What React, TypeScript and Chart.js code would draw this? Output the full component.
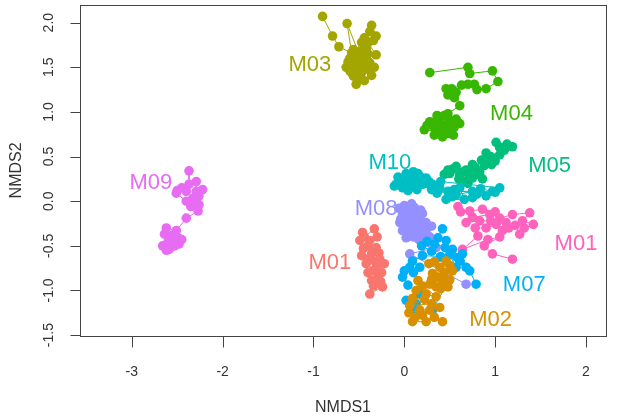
import React, { useEffect, useRef } from "react";
import { Chart, registerables } from "chart.js";

Chart.register(...registerables);

type P = [number, number];

const xTicks = [-3, -2, -1, 0, 1, 2];
const yTicks = [-1.5, -1.0, -0.5, 0.0, 0.5, 1.0, 1.5, 2.0];
const yTickLabels = ["-1.5", "-1.0", "-0.5", "0.0", "0.5", "1.0", "1.5", "2.0"];

const M03: P[] = [[-0.90,2.07],[-0.79,1.85],[-0.72,1.73],[-0.58,1.66],[-0.63,1.99],[-0.49,1.63],[-0.47,1.78],[-0.36,1.97],[-0.31,1.85],[-0.40,1.78],[-0.44,1.83],[-0.31,1.64],[-0.44,1.54],[-0.55,1.52],[-0.62,1.56],[-0.64,1.50],[-0.58,1.44],[-0.53,1.31],[-0.47,1.44],[-0.40,1.48],[-0.36,1.41],[-0.50,1.48],[-0.45,1.58],[-0.52,1.60],[-0.42,1.62],[-0.34,1.80],[-0.38,1.90],[-0.60,1.60],[-0.56,1.70],[-0.48,1.68],[-0.42,1.70],[-0.38,1.55],[-0.33,1.50],[-0.56,1.40],[-0.48,1.38],[-0.44,1.35],[-0.60,1.46],[-0.50,1.56],[-0.40,1.65]];
const M04: P[] = [[0.28,1.44],[0.70,1.50],[0.72,1.43],[0.97,1.46],[1.03,1.34],[0.90,1.26],[0.80,1.25],[0.77,1.31],[0.70,1.31],[0.63,1.30],[0.52,1.26],[0.46,1.26],[0.48,1.19],[0.55,1.16],[0.57,1.22],[0.61,1.07],[0.48,0.98],[0.39,0.94],[0.50,0.91],[0.33,0.83],[0.44,0.80],[0.28,0.89],[0.55,0.83],[0.37,0.78],[0.22,0.80],[0.48,0.76],[0.61,0.87],[0.41,0.85],[0.35,0.90],[0.30,0.86],[0.36,0.96],[0.44,0.96],[0.52,0.79],[0.57,0.92],[0.25,0.85],[0.33,0.74],[0.42,0.72],[0.46,0.86],[0.40,0.79],[0.54,0.74]];
const M05: P[] = [[0.44,0.30],[0.48,0.35],[0.50,0.31],[0.53,0.36],[0.57,0.39],[0.60,0.25],[0.61,0.30],[0.66,0.22],[0.68,0.35],[0.72,0.28],[0.70,0.20],[0.75,0.26],[0.75,0.41],[0.73,0.34],[0.80,0.30],[0.83,0.33],[0.86,0.25],[0.78,0.38],[0.85,0.46],[0.88,0.40],[0.92,0.47],[0.96,0.41],[0.95,0.50],[1.00,0.45],[0.90,0.54],[1.05,0.52],[1.10,0.57],[1.05,0.60],[1.01,0.66],[1.13,0.64],[1.19,0.61],[0.65,0.33]];
const M10: P[] = [[-0.09,0.19],[-0.11,0.17],[-0.05,0.22],[-0.07,0.27],[-0.02,0.15],[0.02,0.31],[0.06,0.28],[0.10,0.33],[0.11,0.20],[0.15,0.31],[0.18,0.27],[0.24,0.26],[0.27,0.22],[0.20,0.19],[0.31,0.19],[0.30,0.13],[0.39,0.15],[0.36,0.09],[0.48,0.11],[0.75,0.11],[0.57,0.07],[0.52,0.05],[0.46,0.02],[0.66,0.02],[0.61,0.15],[0.55,0.13],[0.90,0.06],[0.80,0.08],[0.75,0.04],[0.84,0.14],[0.97,0.11],[1.00,0.10],[1.05,0.15],[0.40,0.22],[0.24,0.20],[0.02,0.24],[0.00,0.18],[0.04,0.12],[0.08,0.16],[0.14,0.13],[0.13,0.25]];
const M08: P[] = [[0.11,-0.07],[0.08,-0.03],[0.00,-0.05],[-0.06,-0.08],[-0.02,-0.15],[0.04,-0.12],[0.12,-0.16],[0.18,-0.10],[0.20,-0.14],[0.17,-0.19],[0.09,-0.20],[0.03,-0.18],[0.06,-0.22],[-0.04,-0.20],[-0.05,-0.24],[0.00,-0.28],[0.05,-0.27],[0.15,-0.26],[0.24,-0.24],[0.30,-0.28],[0.13,-0.28],[0.09,-0.31],[-0.02,-0.33],[0.03,-0.35],[0.14,-0.34],[0.18,-0.30],[0.24,-0.32],[0.02,-0.41],[0.10,-0.40],[0.22,-0.37],[0.28,-0.40],[0.16,-0.43],[0.26,-0.46],[0.35,-0.52],[0.06,-0.59],[0.68,-0.93]];
const M07: P[] = [[0.42,-0.31],[0.37,-0.41],[0.46,-0.44],[0.45,-0.52],[0.53,-0.54],[0.33,-0.48],[0.25,-0.45],[0.19,-0.50],[0.30,-0.56],[0.40,-0.62],[0.20,-0.61],[0.09,-0.67],[0.17,-0.74],[0.10,-0.80],[0.06,-0.74],[0.00,-0.78],[-0.02,-0.85],[0.04,-0.94],[0.17,-1.04],[0.02,-1.11],[0.09,-1.19],[0.13,-1.15],[0.13,-1.26],[0.31,-1.22],[0.57,-0.74],[0.50,-0.60],[0.58,-0.63],[0.61,-0.67],[0.64,-0.59],[0.68,-0.74],[0.72,-0.78],[0.79,-0.93]];
const M02: P[] = [[0.46,-0.67],[0.33,-0.68],[0.27,-0.70],[0.39,-0.74],[0.50,-0.72],[0.53,-0.78],[0.44,-0.80],[0.31,-0.81],[0.36,-0.85],[0.42,-0.89],[0.50,-0.88],[0.30,-0.88],[0.28,-0.93],[0.35,-0.96],[0.48,-0.96],[0.40,-0.98],[0.20,-0.95],[0.24,-1.04],[0.35,-1.07],[0.15,-0.89],[0.13,-1.00],[0.09,-1.09],[0.22,-1.10],[0.06,-1.17],[0.30,-1.15],[0.39,-1.19],[0.28,-1.22],[0.17,-1.22],[0.05,-1.25],[0.12,-1.30],[0.20,-1.28],[0.09,-1.35],[0.24,-1.35],[0.33,-1.30],[0.42,-1.35]];
const M01a: P[] = [[-0.46,-0.35],[-0.44,-0.40],[-0.33,-0.31],[-0.30,-0.40],[-0.38,-0.44],[-0.49,-0.44],[-0.40,-0.50],[-0.45,-0.53],[-0.31,-0.52],[-0.36,-0.59],[-0.28,-0.58],[-0.47,-0.61],[-0.40,-0.65],[-0.27,-0.65],[-0.32,-0.68],[-0.42,-0.70],[-0.22,-0.70],[-0.30,-0.75],[-0.35,-0.78],[-0.40,-0.80],[-0.25,-0.80],[-0.29,-0.85],[-0.36,-0.89],[-0.26,-0.90],[-0.34,-0.95],[-0.24,-0.96],[-0.38,-1.04]];
const M01b: P[] = [[0.59,-0.06],[0.62,-0.12],[0.72,-0.11],[0.86,-0.09],[1.00,-0.12],[0.94,-0.15],[0.75,-0.18],[0.68,-0.24],[0.83,-0.22],[0.95,-0.22],[1.05,-0.19],[1.19,-0.15],[1.38,-0.13],[1.30,-0.22],[1.42,-0.26],[1.32,-0.30],[1.27,-0.37],[1.22,-0.27],[1.15,-0.30],[1.08,-0.33],[1.12,-0.24],[1.01,-0.26],[0.90,-0.30],[0.78,-0.30],[0.81,-0.39],[0.64,-0.54],[0.92,-0.43],[1.05,-0.40],[0.88,-0.50],[0.97,-0.59],[1.19,-0.65]];
const M09: P[] = [[-2.37,0.34],[-2.37,0.19],[-2.29,0.22],[-2.29,0.11],[-2.22,0.13],[-2.26,0.06],[-2.33,0.03],[-2.45,0.15],[-2.40,0.11],[-2.50,0.12],[-2.51,0.09],[-2.40,0.00],[-2.29,0.00],[-2.26,-0.04],[-2.35,-0.06],[-2.27,-0.11],[-2.40,-0.19],[-2.51,-0.33],[-2.62,-0.30],[-2.64,-0.37],[-2.55,-0.38],[-2.57,-0.41],[-2.49,-0.41],[-2.45,-0.43],[-2.53,-0.50],[-2.48,-0.48],[-2.60,-0.45],[-2.59,-0.54],[-2.62,-0.55],[-2.66,-0.50]];

// drawing order: first = on top
const groupNames = ["M02", "M07", "M08", "M01", "M01", "M10", "M05", "M04", "M03", "M09"];
const groupData: P[][] = [M02, M07, M08, M01a, M01b, M10, M05, M04, M03, M09];
const groupColors = ["#D89000", "#00B0F6", "#9590FF", "#F8766D", "#FF62BC", "#00BFC4", "#00BF7D", "#39B600", "#A3A500", "#E76BF3"];
const labelPos: P[] = [[0.95,-1.33],[1.32,-0.94],[-0.31,-0.09],[-0.82,-0.69],[1.89,-0.48],[-0.16,0.43],[1.60,0.40],[1.18,0.98],[-1.04,1.53],[-2.79,0.21]];

const frame = {
  id: "frame",
  afterDatasetsDraw(chart: any) {
    const { ctx, chartArea: a, scales } = chart;
    const x = scales.x, y = scales.y;
    ctx.save();
    ctx.font = "22px 'Liberation Sans', Arial, sans-serif";
    ctx.textAlign = "center";
    ctx.textBaseline = "middle";
    groupNames.forEach((n, i) => {
      ctx.fillStyle = groupColors[i];
      ctx.fillText(n, x.getPixelForValue(labelPos[i][0]), y.getPixelForValue(labelPos[i][1]));
    });
    ctx.strokeStyle = "#444";
    ctx.lineWidth = 1;
    ctx.strokeRect(Math.round(a.left) + 0.5, Math.round(a.top) + 0.5, Math.round(a.right - a.left), Math.round(a.bottom - a.top));
    ctx.fillStyle = "#333";
    ctx.font = "14px 'Liberation Sans', Arial, sans-serif";
    ctx.beginPath();
    const by = Math.round(a.bottom) + 0.5;
    ctx.moveTo(x.getPixelForValue(xTicks[0]), by);
    ctx.lineTo(x.getPixelForValue(xTicks[xTicks.length - 1]), by);
    xTicks.forEach((t) => {
      const px = Math.round(x.getPixelForValue(t)) + 0.5;
      ctx.moveTo(px, by);
      ctx.lineTo(px, by + 11);
    });
    ctx.stroke();
    xTicks.forEach((t) => {
      ctx.fillText(String(t), x.getPixelForValue(t), by + 36);
    });
    const lx = Math.round(a.left) + 0.5;
    ctx.beginPath();
    ctx.moveTo(lx, y.getPixelForValue(yTicks[0]));
    ctx.lineTo(lx, y.getPixelForValue(yTicks[yTicks.length - 1]));
    yTicks.forEach((t) => {
      const py = Math.round(y.getPixelForValue(t)) + 0.5;
      ctx.moveTo(lx, py);
      ctx.lineTo(lx - 10, py);
    });
    ctx.stroke();
    yTicks.forEach((t, i) => {
      ctx.save();
      ctx.translate(lx - 31, y.getPixelForValue(t));
      ctx.rotate(-Math.PI / 2);
      ctx.fillText(yTickLabels[i], 0, 0);
      ctx.restore();
    });
    ctx.font = "16px 'Liberation Sans', Arial, sans-serif";
    ctx.fillText("NMDS1", (a.left + a.right) / 2, 408);
    ctx.save();
    ctx.translate(17, (a.top + a.bottom) / 2);
    ctx.rotate(-Math.PI / 2);
    ctx.fillText("NMDS2", 0, 0);
    ctx.restore();
    ctx.restore();
  },
};

export default function App() {
  const ref = useRef<HTMLCanvasElement | null>(null);
  useEffect(() => {
    if (!ref.current) return;
    const chart = new Chart(ref.current, {
      type: "scatter",
      data: {
        datasets: groupData.map((d, i) => ({
          label: groupNames[i],
          data: d.map(([px, py]) => ({ x: px, y: py })),
          showLine: true,
          borderColor: groupColors[i],
          backgroundColor: groupColors[i],
          borderWidth: 1,
          pointRadius: 4.8,
          pointBorderWidth: 0,
          pointBackgroundColor: groupColors[i],
          pointHoverRadius: 4.8,
        })),
      },
      options: {
        animation: false,
        responsive: false,
        devicePixelRatio: 1,
        layout: { padding: { left: 80, right: 11, top: 2, bottom: 82 } },
        plugins: { legend: { display: false }, tooltip: { enabled: false } },
        scales: {
          x: { type: "linear", min: -3.57, max: 2.22, display: false },
          y: { type: "linear", min: -1.51, max: 2.2, display: false },
        },
      },
      plugins: [frame],
    });
    return () => chart.destroy();
  }, []);
  return (
    <div style={{ position: "absolute", left: 0, top: 0, width: 617, height: 418, background: "#fff" }}>
      <canvas ref={ref} width={617} height={418} />
    </div>
  );
}
